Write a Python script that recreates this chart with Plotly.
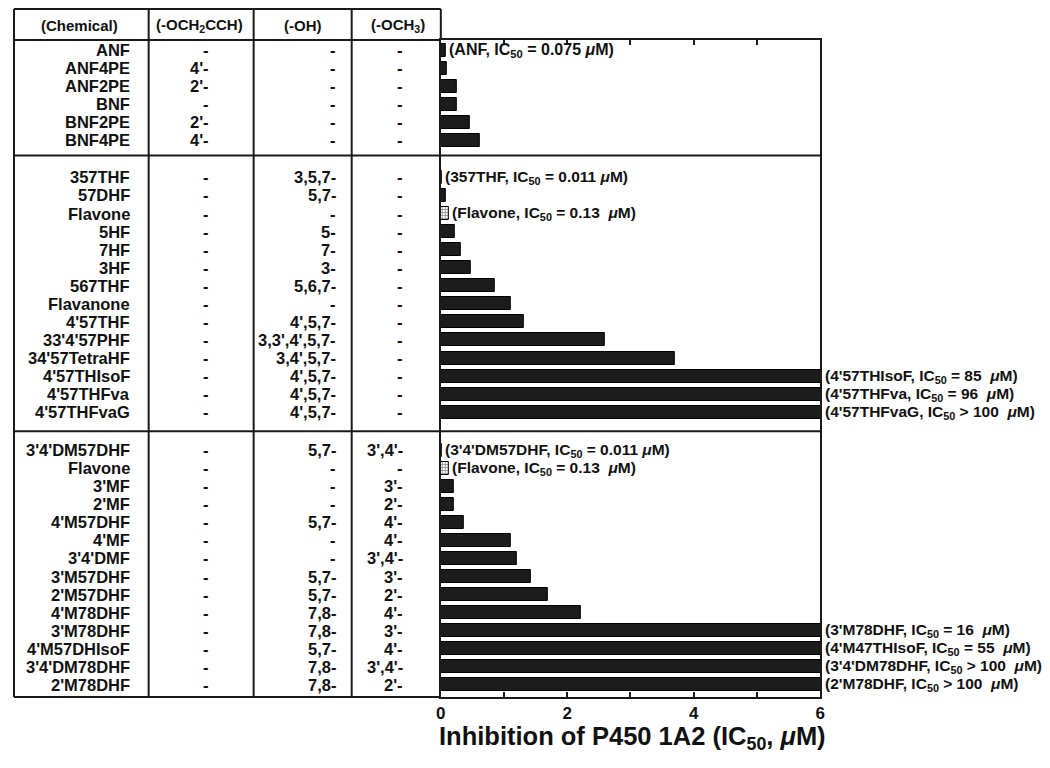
import plotly.graph_objects as go

# page body has an 8px margin: the figure is sized so that it fills the window exactly
OFF = 8
W, H = 1050 - 2 * OFF, 768 - 2 * OFF

# ---------------- data ----------------
sec1_names = ["ANF", "ANF4PE", "ANF2PE", "BNF", "BNF2PE", "BNF4PE"]
sec1_propargyl = ["-", "4'-", "2'-", "-", "2'-", "4'-"]
sec1_oh = ["-", "-", "-", "-", "-", "-"]
sec1_ome = ["-", "-", "-", "-", "-", "-"]
sec1_ic50 = [0.075, 0.10, 0.25, 0.25, 0.46, 0.61]
sec1_labels = ["(ANF, IC<sub>50</sub> = 0.075 <i>μ</i>M)", None, None, None, None, None]

sec2_names = ["357THF", "57DHF", "Flavone", "5HF", "7HF", "3HF", "567THF", "Flavanone",
              "4'57THF", "33'4'57PHF", "34'57TetraHF", "4'57THIsoF", "4'57THFva", "4'57THFvaG"]
sec2_propargyl = ["-"] * 14
sec2_oh = ["3,5,7-", "5,7-", "-", "5-", "7-", "3-", "5,6,7-", "-", "4',5,7-",
           "3,3',4',5,7-", "3,4',5,7-", "4',5,7-", "4',5,7-", "4',5,7-"]
sec2_ome = ["-"] * 14
sec2_ic50 = [0.011, 0.08, 0.13, 0.22, 0.32, 0.48, 0.85, 1.11, 1.31, 2.60, 3.70, 85, 96, 100]
sec2_labels = ["(357THF, IC<sub>50</sub> = 0.011 <i>μ</i>M)", None,
               "(Flavone, IC<sub>50</sub> = 0.13\u00a0 <i>μ</i>M)", None, None, None, None, None,
               None, None, None,
               "(4'57THIsoF, IC<sub>50</sub> = 85\u00a0 <i>μ</i>M)",
               "(4'57THFva, IC<sub>50</sub> = 96\u00a0 <i>μ</i>M)",
               "(4'57THFvaG, IC<sub>50</sub> > 100\u00a0 <i>μ</i>M)"]

sec3_names = ["3'4'DM57DHF", "Flavone", "3'MF", "2'MF", "4'M57DHF", "4'MF", "3'4'DMF",
              "3'M57DHF", "2'M57DHF", "4'M78DHF", "3'M78DHF", "4'M57DHIsoF",
              "3'4'DM78DHF", "2'M78DHF"]
sec3_propargyl = ["-"] * 14
sec3_oh = ["5,7-", "-", "-", "-", "5,7-", "-", "-", "5,7-", "5,7-", "7,8-", "7,8-",
           "5,7-", "7,8-", "7,8-"]
sec3_ome = ["3',4'-", "-", "3'-", "2'-", "4'-", "4'-", "3',4'-", "3'-", "2'-", "4'-",
            "3'-", "4'-", "3',4'-", "2'-"]
sec3_ic50 = [0.011, 0.13, 0.20, 0.20, 0.37, 1.11, 1.21, 1.42, 1.70, 2.22, 16, 55, 100, 100]
sec3_labels = ["(3'4'DM57DHF, IC<sub>50</sub> = 0.011 <i>μ</i>M)",
               "(Flavone, IC<sub>50</sub> = 0.13\u00a0 <i>μ</i>M)", None, None, None, None, None,
               None, None, None,
               "(3'M78DHF, IC<sub>50</sub> = 16\u00a0 <i>μ</i>M)",
               "(4'M47THIsoF, IC<sub>50</sub> = 55\u00a0 <i>μ</i>M)",
               "(3'4'DM78DHF, IC<sub>50</sub> > 100\u00a0 <i>μ</i>M)",
               "(2'M78DHF, IC<sub>50</sub> > 100\u00a0 <i>μ</i>M)"]

headers = ["(Chemical)", "(-OCH<sub>2</sub>CCH)", "(-OH)", "(-OCH<sub>3</sub>)"]
x_ticks = [0, 2, 4, 6]
x_minor_ticks = [1, 3, 5]
x_title = "Inhibition of P450 1A2 (IC<sub>50</sub>, <i>μ</i>M)"
reference_compound = "Flavone"

# ---------------- layout helpers (reference pixel -> paper) ----------------
def px(x):
    return (x - OFF) / W


def py(y):
    return 1 - (y - OFF) / H


plot_left, plot_right, plot_top, plot_bottom = 440, 823, 40, 697
table_left, table_top = 9, 9
col_lines = [table_left, 145, 251, 350]

sections = [
    dict(names=sec1_names, prop=sec1_propargyl, oh=sec1_oh, ome=sec1_ome, v=sec1_ic50, lab=sec1_labels),
    dict(names=sec2_names, prop=sec2_propargyl, oh=sec2_oh, ome=sec2_ome, v=sec2_ic50, lab=sec2_labels),
    dict(names=sec3_names, prop=sec3_propargyl, oh=sec3_oh, ome=sec3_ome, v=sec3_ic50, lab=sec3_labels),
]
leads = [0.56, 1.22, 1.05]
trails = [0.83, 1.05, 0.67]

cursor = 0.0
boundaries = []
all_y, all_v, all_names, all_lab, all_prop, all_oh, all_ome = [], [], [], [], [], [], []
for s, lead, trail in zip(sections, leads, trails):
    cursor += lead
    n = len(s["names"])
    for i in range(n):
        all_y.append(cursor + i)
    all_v += s["v"]
    all_names += s["names"]
    all_lab += s["lab"]
    all_prop += s["prop"]
    all_oh += s["oh"]
    all_ome += s["ome"]
    cursor += (n - 1) + trail
    boundaries.append(cursor)
total = cursor

FONT = "Liberation Sans, Arial, sans-serif"
INK = "#111111"
BAR = "#1c1c1c"
LC = "#1a1a1a"
LW = 2

fig = go.Figure()

is_ref = [n == reference_compound for n in all_names]
fig.add_trace(go.Bar(
    x=[v for v, r in zip(all_v, is_ref) if not r],
    y=[y for y, r in zip(all_y, is_ref) if not r],
    orientation="h", width=0.72,
    marker=dict(color=BAR, line=dict(color="#000000", width=1)),
    hoverinfo="skip", showlegend=False,
))
fig.add_trace(go.Bar(
    x=[v for v, r in zip(all_v, is_ref) if r],
    y=[y for y, r in zip(all_y, is_ref) if r],
    orientation="h", width=0.72,
    marker=dict(color="white", line=dict(color="#000000", width=1),
                pattern=dict(shape="+", fgcolor="#000000", bgcolor="white", size=3, solidity=0.4)),
    hoverinfo="skip", showlegend=False,
))

annotations = []
# IC50 labels
x_max = x_ticks[-1]
for y, v, lab, nm in zip(all_y, all_v, all_lab, all_names):
    if lab is None:
        continue
    annotations.append(dict(x=min(v, x_max), y=y, xref="x", yref="y", text=lab, showarrow=False,
                            xanchor="left", yanchor="middle", xshift=1 if v < x_max else 3,
                            font=dict(family=FONT, size=16 if nm == "ANF" else 15.5,
                                      color=INK, weight="bold")))

# table text
for y, nm, pr, oh, om in zip(all_y, all_names, all_prop, all_oh, all_ome):
    for txt, xr in [(nm, 128), (pr, 208), (oh, 336), (om, 404)]:
        annotations.append(dict(x=px(xr), y=y, xref="paper", yref="y", text=txt, showarrow=False,
                                xanchor="right", yanchor="middle",
                                font=dict(family=FONT, size=16.5, color=INK, weight="bold")))

# headers
header_centers = [75, 196, 301, 397]
for txt, xc in zip(headers, header_centers):
    annotations.append(dict(x=px(xc), y=py(25), xref="paper", yref="paper", text=txt,
                            showarrow=False, xanchor="center", yanchor="middle",
                            font=dict(family=FONT, size=15, color=INK, weight="bold")))

# axis title
annotations.append(dict(x=px(634), y=py(738), xref="paper", yref="paper",
                        text=x_title, showarrow=False,
                        xanchor="center", yanchor="middle",
                        font=dict(family=FONT, size=25.5, color=INK, weight="bold")))

shapes = []
for xc in col_lines:
    shapes.append(dict(type="line", xref="paper", yref="paper", x0=px(xc), x1=px(xc),
                       y0=py(table_top), y1=py(plot_bottom), line=dict(color=LC, width=LW)))
shapes.append(dict(type="line", xref="paper", yref="paper", x0=px(plot_left), x1=px(plot_left),
                   y0=py(table_top), y1=py(plot_top), line=dict(color=LC, width=LW)))
for yy in [table_top, plot_top, plot_bottom]:
    shapes.append(dict(type="line", xref="paper", yref="paper", x0=px(table_left), x1=px(plot_left),
                       y0=py(yy), y1=py(yy), line=dict(color=LC, width=LW)))
for b in boundaries[:-1]:
    shapes.append(dict(type="line", xref="paper", yref="y", x0=px(table_left), x1=px(plot_right),
                       y0=b, y1=b, line=dict(color=LC, width=LW)))

fig.update_layout(
    width=W, height=H,
    margin=dict(l=0, r=0, t=0, b=0),
    paper_bgcolor="white", plot_bgcolor="white",
    bargap=0, showlegend=False,
    annotations=annotations, shapes=shapes,
    xaxis=dict(domain=[px(plot_left), px(plot_right)], range=[0, 6],
               tickvals=x_ticks,
               ticks="inside", ticklen=5, tickwidth=1.5, tickcolor=LC,
               minor=dict(tickvals=x_minor_ticks, ticks="inside", ticklen=5, tickwidth=1.5,
                          tickcolor=LC, showgrid=False),
               showline=True, linecolor=LC, linewidth=LW, mirror="ticks",
               showgrid=False, zeroline=False,
               tickfont=dict(family=FONT, size=17, color=INK, weight="bold"),
               ticklabelstandoff=0),
    yaxis=dict(domain=[py(plot_bottom), py(plot_top)], range=[total, 0],
               showticklabels=False, ticks="", showline=True, linecolor=LC, linewidth=LW,
               mirror=True, showgrid=False, zeroline=False),
)

fig.write_html("out.html")
